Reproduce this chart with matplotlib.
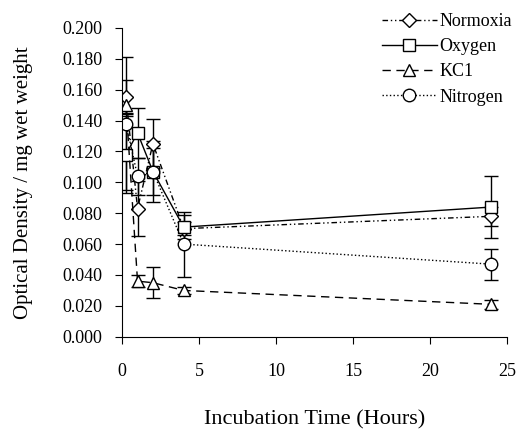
import numpy as np
import matplotlib
matplotlib.use("Agg")
import matplotlib.pyplot as plt

plt.rcParams['font.family'] = ['Liberation Serif', 'DejaVu Serif']

hours = [0.25, 1, 2, 4, 24]

normoxia = [0.155, 0.083, 0.125, 0.070, 0.078]
normoxia_err = [0.011, 0.018, 0.016, 0.004, 0.006]

oxygen = [0.118, 0.132, 0.107, 0.071, 0.084]
oxygen_err = [0.025, 0.016, 0.020, 0.008, 0.020]

kcl = [0.150, 0.036, 0.035, 0.030, 0.021]
kcl_err = [0.005, 0.004, 0.010, 0.002, 0.003]

nitrogen = [0.138, 0.104, 0.107, 0.060, 0.047]
nitrogen_err = [0.043, 0.012, 0.015, 0.021, 0.010]

fig = plt.figure(figsize=(5.22, 4.29), dpi=100)
ax = fig.add_axes([0.234, 0.215, 0.737, 0.72])

style = dict(color='black', mfc='white', mec='black', lw=1,
             ecolor='black', elinewidth=1, capsize=5)

ax.errorbar(hours, normoxia, yerr=normoxia_err, marker='D', ms=7,
            linestyle=(0, (4, 2, 1, 2, 1, 2)), **style, label='Normoxia')
ax.errorbar(hours, oxygen, yerr=oxygen_err, marker='s', ms=9, linestyle='-',
            **style, label='Oxygen')
ax.errorbar(hours, kcl, yerr=kcl_err, marker='^', ms=9, linestyle=(0, (6, 4)),
            **style, label='KC1')
ax.errorbar(hours, nitrogen, yerr=nitrogen_err, marker='o', ms=9, linestyle=':',
            **style, label='Nitrogen')

ax.set_xlim(0, 25)
ax.set_ylim(0, 0.2)
ax.set_xticks([0, 5, 10, 15, 20, 25])
ax.set_yticks(np.arange(0, 0.2001, 0.02))
ax.yaxis.set_major_formatter(matplotlib.ticker.FormatStrFormatter('%.3f'))
ax.tick_params(direction='out', length=5, labelsize=13)
ax.tick_params(axis='y', pad=9)
ax.tick_params(axis='x', pad=14)
ax.spines['top'].set_visible(False)
ax.spines['right'].set_visible(False)

ax.set_xlabel('Incubation Time (Hours)', fontsize=16, labelpad=22)
ax.set_ylabel('Optical Density / mg wet weight', fontsize=15, labelpad=21)

handles, labels = ax.get_legend_handles_labels()
handles = [h[0] for h in handles]
ax.legend(handles, labels, loc='upper right', bbox_to_anchor=(1.055, 1.1),
          frameon=False, fontsize=13, handlelength=3.0, handletextpad=0.15,
          labelspacing=0.45)

fig.savefig('out.png', dpi=100)
